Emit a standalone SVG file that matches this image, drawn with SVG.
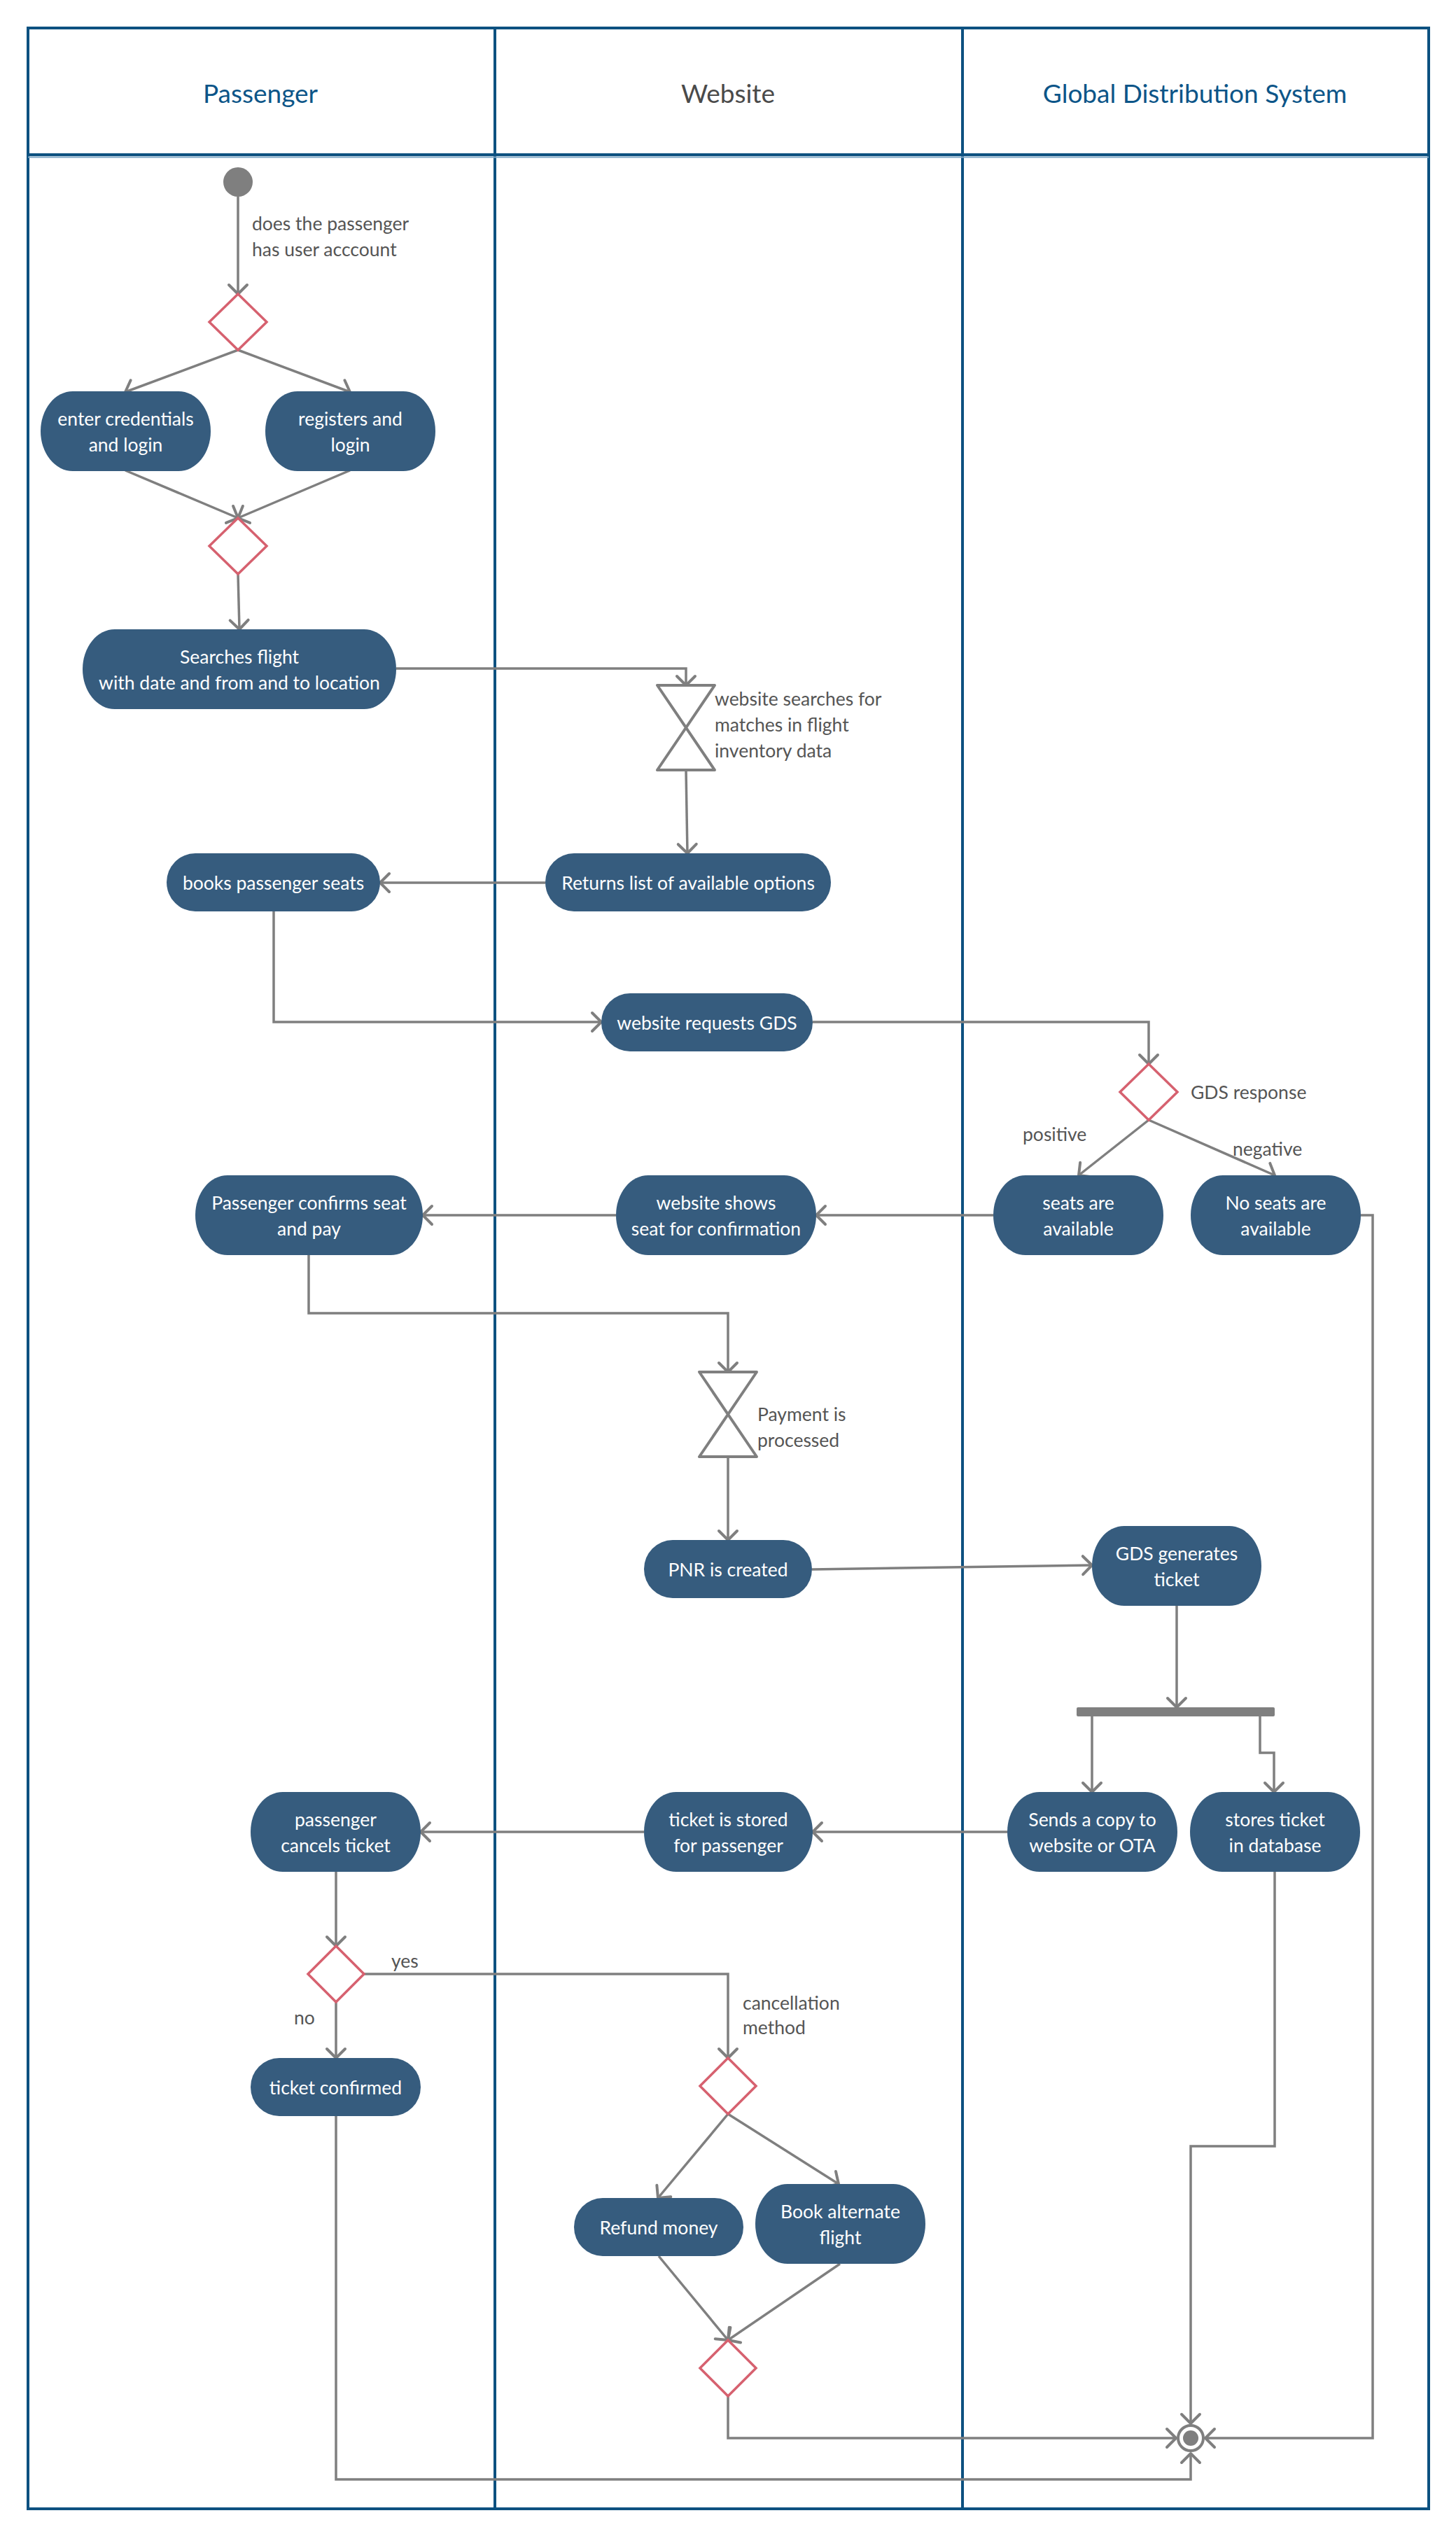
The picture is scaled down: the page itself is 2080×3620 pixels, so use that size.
<svg xmlns="http://www.w3.org/2000/svg" width="2080" height="3620" viewBox="0 0 2080 3620">
<defs>
<style>
.lane{fill:none;stroke:#0d5180;stroke-width:4}
.hdr{font-family:Lato,"Liberation Sans",sans-serif;font-size:37px;text-anchor:middle;dominant-baseline:central}
.node rect{fill:#365c7e}
.nt{font-family:Lato,"Liberation Sans",sans-serif;font-size:26.5px;fill:#ffffff;text-anchor:middle;dominant-baseline:central}
.lbl{font-family:Lato,"Liberation Sans",sans-serif;font-size:26.5px;fill:#555555;dominant-baseline:central}
.dia{fill:#ffffff;stroke:#d6616f;stroke-width:3.5}
.hg{fill:#ffffff;stroke:#7f7f7f;stroke-width:4;stroke-linejoin:round}
.conn path{fill:none;stroke:#7f7f7f;stroke-width:3.5;marker-end:url(#arr)}
</style>
<marker id="arr" markerUnits="userSpaceOnUse" markerWidth="40" markerHeight="40" refX="0" refY="0" orient="auto" overflow="visible">
<path d="M-13,-13 L0,0 L-13,13" fill="none" stroke="#7f7f7f" stroke-width="4" stroke-linecap="round" stroke-linejoin="round"/>
</marker>
</defs>
<rect width="2080" height="3620" fill="#ffffff"/>
<g id="lanes">
<rect class="lane" x="40" y="40" width="2001" height="3544"/>
<line class="lane" x1="707" y1="40" x2="707" y2="3584"/>
<line class="lane" x1="1375" y1="40" x2="1375" y2="3584"/>
<line x1="40" y1="221" x2="2041" y2="221" stroke="#0d5180" stroke-width="4"/>
<line x1="40" y1="224.5" x2="2041" y2="224.5" stroke="#7da6c4" stroke-width="2"/>
<text class="hdr" x="372" y="132" fill="#0c5588">Passenger</text>
<text class="hdr" x="1040" y="132" fill="#4a4a4a">Website</text>
<text class="hdr" x="1707" y="132" fill="#0c5588">Global Distribution System</text>
</g>
<g id="connectors" class="conn">
<path d="M340,281 V420"/>
<path d="M340,500 L179,560"/>
<path d="M340,500 L500,560"/>
<path d="M179,672 L340,740"/>
<path d="M500,672 L340,740"/>
<path d="M340,820 L342,899"/>
<path d="M566,955 H980 V979"/>
<path d="M980,1100 L982,1219"/>
<path d="M779,1261 H543"/>
<path d="M391,1302 V1460 H859"/>
<path d="M1161,1460 H1641 V1520"/>
<path d="M1641,1600 L1541,1679"/>
<path d="M1641,1600 L1821,1679"/>
<path d="M1419,1736 H1166"/>
<path d="M880,1736 H604"/>
<path d="M441,1793 V1876 H1040 V1960"/>
<path d="M1040,2081 V2200"/>
<path d="M1160,2242 L1560,2236"/>
<path d="M1681,2294 V2439"/>
<path d="M1560,2452 V2560"/>
<path d="M1800,2452 V2504 H1820 V2560"/>
<path d="M1439,2617 H1161"/>
<path d="M920,2617 H601"/>
<path d="M480,2674 V2780"/>
<path d="M480,2860 V2940"/>
<path d="M520,2820 H1040 V2940"/>
<path d="M1040,3020 L940,3140"/>
<path d="M1040,3020 L1198,3120"/>
<path d="M941,3223 L1040,3343"/>
<path d="M1200,3234 L1040,3343"/>
<path d="M1040,3423 V3483 H1680"/>
<path d="M1821,2674 V3066 H1701 V3462"/>
<path d="M1944,1736 H1961 V3483 H1722"/>
<path d="M480,3023 V3542 H1701 V3505"/>
</g>
<g id="start"><circle cx="340" cy="260" r="21" fill="#7f7f7f"/></g>
<g id="label-account"><text class="lbl" x="360" y="319">does the passenger</text><text class="lbl" x="360" y="356">has user acccount</text></g>
<g id="decision1"><polygon class="dia" points="340,420 381,460 340,500 299,460"/></g>
<g id="n-enter" class="node"><rect x="58" y="559" width="243" height="114" rx="46" ry="57"/><text class="nt" x="179.5" y="598">enter credentials</text><text class="nt" x="179.5" y="635">and login</text></g>
<g id="n-register" class="node"><rect x="379" y="559" width="243" height="114" rx="46" ry="57"/><text class="nt" x="500.5" y="598">registers and</text><text class="nt" x="500.5" y="635">login</text></g>
<g id="merge1"><polygon class="dia" points="340,740 381,780 340,820 299,780"/></g>
<g id="n-search" class="node"><rect x="118" y="899" width="448" height="114" rx="46" ry="57"/><text class="nt" x="342" y="938">Searches flight</text><text class="nt" x="342" y="975">with date and from and to location</text></g>
<g id="hourglass1"><path class="hg" d="M939,979 L1021,979 L939,1100 L1021,1100 Z"/><text class="lbl" x="1021" y="998">website searches for</text><text class="lbl" x="1021" y="1035">matches in flight</text><text class="lbl" x="1021" y="1072">inventory data</text></g>
<g id="n-returns" class="node"><rect x="779" y="1219" width="408" height="83" rx="41" ry="41.5"/><text class="nt" x="983" y="1260.5">Returns list of available options</text></g>
<g id="n-books" class="node"><rect x="238" y="1219" width="305" height="83" rx="41" ry="41.5"/><text class="nt" x="390.5" y="1260.5">books passenger seats</text></g>
<g id="n-request" class="node"><rect x="859" y="1419" width="302" height="83" rx="41" ry="41.5"/><text class="nt" x="1010" y="1460.5">website requests GDS</text></g>
<g id="decision-gds"><polygon class="dia" points="1641,1520 1682,1560 1641,1600 1600,1560"/><text class="lbl" x="1701" y="1560">GDS response</text><text class="lbl" x="1461" y="1620">positive</text><text class="lbl" x="1761" y="1641">negative</text></g>
<g id="n-seats" class="node"><rect x="1419" y="1679" width="243" height="114" rx="46" ry="57"/><text class="nt" x="1540.5" y="1718">seats are</text><text class="nt" x="1540.5" y="1755">available</text></g>
<g id="n-noseats" class="node"><rect x="1701" y="1679" width="243" height="114" rx="46" ry="57"/><text class="nt" x="1822.5" y="1718">No seats are</text><text class="nt" x="1822.5" y="1755">available</text></g>
<g id="n-shows" class="node"><rect x="880" y="1679" width="286" height="114" rx="46" ry="57"/><text class="nt" x="1023" y="1718">website shows</text><text class="nt" x="1023" y="1755">seat for confirmation</text></g>
<g id="n-confirms" class="node"><rect x="279" y="1679" width="325" height="114" rx="46" ry="57"/><text class="nt" x="441.5" y="1718">Passenger confirms seat</text><text class="nt" x="441.5" y="1755">and pay</text></g>
<g id="hourglass2"><path class="hg" d="M999,1960 L1081,1960 L999,2081 L1081,2081 Z"/><text class="lbl" x="1082" y="2020">Payment is</text><text class="lbl" x="1082" y="2057">processed</text></g>
<g id="n-pnr" class="node"><rect x="920" y="2200" width="240" height="83" rx="41" ry="41.5"/><text class="nt" x="1040" y="2241.5">PNR is created</text></g>
<g id="n-gdsgen" class="node"><rect x="1560" y="2180" width="242" height="114" rx="46" ry="57"/><text class="nt" x="1681" y="2219">GDS generates</text><text class="nt" x="1681" y="2256">ticket</text></g>
<g id="fork"><rect x="1538" y="2439" width="283" height="13" rx="2" fill="#7f7f7f"/></g>
<g id="n-sends" class="node"><rect x="1439" y="2560" width="243" height="114" rx="46" ry="57"/><text class="nt" x="1560.5" y="2599">Sends a copy to</text><text class="nt" x="1560.5" y="2636">website or OTA</text></g>
<g id="n-stores" class="node"><rect x="1700" y="2560" width="243" height="114" rx="46" ry="57"/><text class="nt" x="1821.5" y="2599">stores ticket</text><text class="nt" x="1821.5" y="2636">in database</text></g>
<g id="n-stored" class="node"><rect x="920" y="2560" width="241" height="114" rx="46" ry="57"/><text class="nt" x="1040.5" y="2599">ticket is stored</text><text class="nt" x="1040.5" y="2636">for passenger</text></g>
<g id="n-cancels" class="node"><rect x="358" y="2560" width="243" height="114" rx="46" ry="57"/><text class="nt" x="479.5" y="2599">passenger</text><text class="nt" x="479.5" y="2636">cancels ticket</text></g>
<g id="decision-cancel"><polygon class="dia" points="480,2780 520,2820 480,2860 440,2820"/><text class="lbl" x="559" y="2801">yes</text><text class="lbl" x="420" y="2882">no</text></g>
<g id="n-confirmed" class="node"><rect x="358" y="2940" width="243" height="83" rx="41" ry="41.5"/><text class="nt" x="479.5" y="2981.5">ticket confirmed</text></g>
<g id="decision-method"><polygon class="dia" points="1040,2940 1080,2980 1040,3020 1000,2980"/><text class="lbl" x="1061" y="2861">cancellation</text><text class="lbl" x="1061" y="2896">method</text></g>
<g id="n-refund" class="node"><rect x="820" y="3140" width="242" height="83" rx="41" ry="41.5"/><text class="nt" x="941" y="3181.5">Refund money</text></g>
<g id="n-alternate" class="node"><rect x="1079" y="3120" width="243" height="114" rx="46" ry="57"/><text class="nt" x="1200.5" y="3159">Book alternate</text><text class="nt" x="1200.5" y="3196">flight</text></g>
<g id="merge2"><polygon class="dia" points="1040,3343 1080,3383 1040,3423 1000,3383"/></g>
<g id="end"><circle cx="1701" cy="3483" r="18" fill="#ffffff" stroke="#7f7f7f" stroke-width="4"/><circle cx="1701" cy="3483" r="11" fill="#7f7f7f"/></g>
</svg>
